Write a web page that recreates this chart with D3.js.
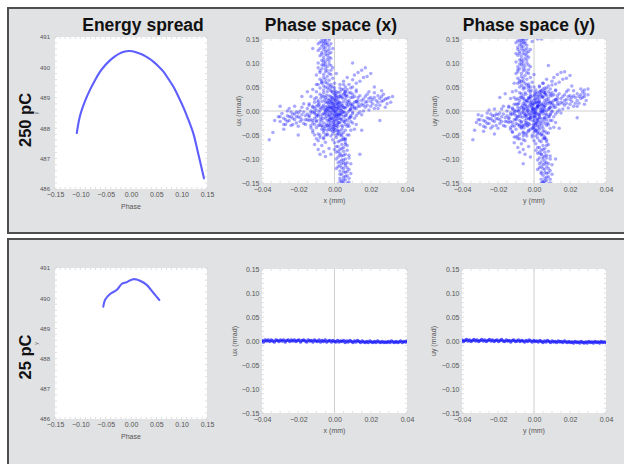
<!DOCTYPE html>
<html><head><meta charset="utf-8">
<script src="https://cdn.jsdelivr.net/npm/d3@7"></script>
<style>body{margin:0;background:#fff}svg{display:block}</style>
</head><body><svg id="c" width="624" height="464"></svg>
<script>
// ---------------- data ----------------
const colTitles = ["Energy spread", "Phase space (x)", "Phase space (y)"];
const rowLabels = ["250 pC", "25 pC"];
const energyTicksX = [-0.15, -0.10, -0.05, 0.00, 0.05, 0.10, 0.15];
const energyTicksY = [486, 487, 488, 489, 490, 491];
const phaseTicksX = [-0.04, -0.02, 0.00, 0.02, 0.04];
const phaseTicksY = [-0.15, -0.10, -0.05, 0.00, 0.05, 0.10, 0.15];

// energy spread curves (phase, energy)
const energy250Phase = [-0.107, -0.1007, -0.091, -0.081, -0.071, -0.061, -0.051, -0.041, -0.031, -0.022, -0.012, -0.005, 0.003, 0.013, 0.024, 0.034, 0.044, 0.054, 0.064, 0.0735, 0.0835, 0.093, 0.103, 0.113, 0.123, 0.133, 0.144];
const energy250E     = [487.84, 488.40, 488.88, 489.26, 489.58, 489.86, 490.07, 490.24, 490.37, 490.46, 490.52, 490.54, 490.53, 490.48, 490.41, 490.31, 490.19, 490.04, 489.86, 489.63, 489.37, 489.06, 488.70, 488.29, 487.83, 487.14, 486.35];
const energy25Phase  = [-0.0547, -0.0513, -0.0414, -0.0283, -0.0184, -0.0085, 0.0045, 0.0178, 0.031, 0.044, 0.0559];
const energy25E      = [489.72, 489.94, 490.14, 490.27, 490.47, 490.53, 490.63, 490.58, 490.44, 490.18, 489.94];

// phase space samples: [x (µm), ux (µrad)]
const phaseX250 = [
[-1,2],[0,-5],[2,8],[-3,-12],[1,15],[-4,4],[3,-8],[-2,20],[0,-18],[4,10],
[-5,-3],[2,-25],[-1,28],[1,-30],[-6,12],[5,-2],[-3,-22],[3,18],[-2,-35],[0,35],
[-7,5],[6,6],[-4,25],[2,-40],[-1,-8],[1,22],[-5,-15],[4,-18],[-3,32],[3,30],
[0,10],[-2,-2],[1,-12],[-1,16],[2,2],[-3,-28],[0,-38],[-4,40],[4,-30],[-6,-25],
[5,20],[-2,8],[1,5],[-1,-20],[3,-3],[-5,18],[2,14],[-3,0],[0,25],[1,-35],
[-7,-8],[6,-10],[-4,-40],[5,35],[-2,42],[3,-42],[-1,-42],[0,42],[-6,30],[6,25],
[-8,-18],[7,10],[-3,14],[2,-15],[-1,-28],[1,32],[-4,-6],[4,3],[0,-25],[-2,-15],
[2,26],[-5,8],[3,12],[-3,-38],[1,-2],[-1,38],[0,-10],[-2,30],[4,-8],[-4,18],
[5,-22],[-6,-5],[2,-32],[-1,6],[1,-20],[-3,-8],[3,-15],[0,18],[-2,-24],[2,38],
[-5,-32],[4,28],[-7,20],[6,-28],[-1,-35],[1,10],[-4,-20],[3,5],[0,0],[-2,4],
[2,-6],[-3,22],[1,28],[-1,12],[0,-30],[-5,0],[4,-38],[-6,38],[5,8],[-2,-40],
[3,40],[-8,2],[7,-20],[-4,10],[2,20],[-3,-18],[0,-42],[1,-8],[-1,-14],[3,-24],
[-2,16],[0,6],[-1,24],[2,-10],[-3,8],[1,40],[4,15],[-4,-30],[5,-12],[-5,28],
[-9,-30],[-8,35],[8,-15],[7,30],[-10,10],[9,5],[-6,-45],[5,45],[-2,50],[1,-50],
[-4,-50],[3,48],[-7,-38],[6,-40],[-9,22],[8,18],[-5,-50],[4,-48],[-11,-5],[10,-2],
[0,48],[-1,-48],[-3,46],[2,-46],[-8,-30],[7,-32],[-6,44],[6,40],[-10,-20],[9,-22],
[-0.5,1],[0.5,-1],[-1.5,-4],[1.5,4],[-2.5,9],[2.5,-9],[-0.5,13],[0.5,-13],[-1.5,19],[1.5,-19],
[-2.5,-17],[2.5,17],[-3.5,5],[3.5,-5],[-4.5,-11],[4.5,11],[-0.5,-23],[0.5,23],[-1.5,27],[1.5,-27],
[-3.5,-33],[3.5,33],[-2.5,-30],[2.5,30],[-5.5,23],[5.5,-23],[-4.5,33],[4.5,-33],[-6.5,-15],[6.5,15],
[-0.5,-37],[0.5,37],[-1.5,41],[1.5,-41],[-3.5,-1],[3.5,1],[-2.5,-9],[2.5,9],[-5.5,3],[5.5,-3],
[-6.5,9],[6.5,-9],[-7.5,-13],[7.5,13],[-4.5,-27],[4.5,27],[-5.5,-37],[5.5,37],[-7.5,27],[7.5,-27],
[-1.5,7],[1.5,-7],[-0.5,-31],[0.5,31],[-3.5,17],[3.5,-17],[-2.5,24],[2.5,-24],[-4.5,2],[4.5,-2],
[-8.5,-2],[8.5,2],[-6.5,-33],[6.5,33],[-8.5,14],[8.5,-14],[-5.5,-7],[5.5,7],[-1.5,-15],[1.5,15],
[-12,-20],[-11,25],[-13,0],[11,-15],[12,20],[10,35],[-10,40],[-12,-40],[11,-38],[-9,55],
[8,-50],[-14,15],[13,-5],[-11,-50],[10,50],[-7,60],[6,-60],[-13,30],[12,-28],[-10,-35],
[9,-40],[-8,48],[7,45],[-12,10],[11,5],[-9,-48],[8,38],[-14,-10],[13,28],[-6,-58],
[5,55],[-11,-28],[10,-25],[-10,28],[9,28],[-13,-30],[12,40],[-8,-55],[7,-50],[-12,45],
[-7,-20],[-8,8],[-9,-8],[7,-4],[8,22],[9,-10],[-7,32],[6,-18],[-6,-40],[5,-45],
[-10,-12],[-9,18],[8,-32],[7,20],[-11,-2],[10,10],[-8,-25],[6,32],[-7,-30],[9,15],
[-4,48],[-6,52],[-2,55],[-5,60],[-3,64],[-7,58],[-1,68],[-4,72],[-6,70],[-8,66],
[-3,78],[-5,82],[-2,85],[-7,88],[-4,92],[-6,95],[-9,90],[-3,98],[-5,102],[-7,105],
[-4,108],[-2,110],[-6,112],[-8,115],[-5,118],[-3,120],[-7,122],[-4,125],[-6,128],[-9,126],
[-5,132],[-3,135],[-7,136],[-6,140],[-4,142],[-8,144],[-5,146],[-3,148],[-7,150],[-6,153],
[-1,50],[0,58],[-10,75],[-2,95],[-1,130],[-9,100],[-10,55],[1,78],[-2,140],[-4,154],
[-8,80],[-5,88],[-3,112],
[-5,50],[-3,53],[-7,63],[-4,58],[-6,76],[-2,76],[-8,84],[-5,96],[-3,104],[-6,100],
[-7,118],[-4,116],[-5,124],[-8,130],[-6,134],[-4,138],[-7,144],[-5,150],[-3,152],[-8,155],
[-6,106],[-2,122],[-9,140],[-5,66],[-1,90],[-4,84],[-7,96],[-6,146],[-3,128],[-5,140],
[2,-48],[4,-52],[1,-55],[5,-60],[3,-62],[6,-58],[0,-66],[4,-70],[2,-74],[7,-72],
[3,-80],[5,-84],[1,-86],[6,-90],[4,-94],[2,-96],[8,-98],[5,-102],[3,-105],[7,-108],
[4,-110],[6,-114],[2,-116],[5,-120],[8,-122],[3,-125],[6,-128],[4,-132],[7,-135],[5,-138],
[3,-140],[6,-143],[4,-146],[8,-148],[5,-150],[2,-152],[7,-154],[-1,-60],[0,-80],[9,-110],
[1,-100],[-2,-52],[9,-130],[6,-100],[3,-92],[4,-118],[5,-76],
[3,-50],[5,-56],[2,-64],[6,-66],[4,-78],[1,-74],[7,-82],[3,-88],[5,-92],[2,-108],
[6,-110],[4,-102],[7,-118],[5,-126],[3,-132],[6,-136],[8,-140],[4,-150],[6,-155],[5,-144],
[1,-120],[3,-114],[7,-126],[8,-92],[2,-84],[4,-60],[6,-70],[5,-108],[3,-146],[7,-150],
[-9,-10],[-10,2],[-11,-15],[-12,8],[-13,-4],[-14,-20],[-15,5],[-16,-10],[-17,-2],[-18,-18],
[-19,0],[-20,-12],[-21,-25],[-22,-6],[-23,-15],[-24,-2],[-25,-20],[-26,-10],[-27,-28],[-28,-15],
[-29,-5],[-30,-22],[-31,-12],[-12,-25],[-14,12],[-16,-28],[-18,8],[-20,-32],[-22,10],[-24,-30],
[-11,18],[-13,-35],[-15,-18],[-17,15],[-19,-22],[-21,-2],[-23,-28],[-26,0],[-10,-22],[-9,12],
[-34,-45],[-28,-38],[-25,5],[-33,-20],
[-10,-8],[-12,-2],[-14,-12],[-16,-18],[-18,-8],[-20,-4],[-22,-18],[-24,-12],[-26,-22],[-28,-28],
[-11,5],[-13,-18],[-15,-6],[-17,-26],[-19,-14],[-21,-12],[-23,-6],[-25,-12],[-27,-18],[-30,-12],
[8,0],[9,12],[10,-5],[11,18],[12,5],[13,22],[14,-2],[15,14],[16,25],[17,8],
[18,20],[19,2],[20,28],[21,15],[22,5],[23,22],[24,32],[25,12],[26,20],[27,35],
[28,25],[29,15],[30,28],[31,18],[10,28],[12,-10],[14,32],[16,0],[18,35],[20,10],
[22,38],[24,5],[26,42],[28,8],[9,-12],[11,30],[13,10],[15,-8],[17,30],[19,40],
[9,4],[11,8],[13,16],[15,22],[17,18],[19,26],[21,24],[23,12],[25,26],[27,22],
[10,14],[12,20],[14,10],[16,12],[18,12],[20,20],[22,28],[24,18],[26,30],[29,26],
[4,45],[6,50],[8,55],[5,62],[9,48],[10,65],[7,70],[12,58],[11,75],[14,62],
[13,80],[16,70],[15,85],[18,72],[17,90],[20,78],[6,40],[9,38],[12,44],[3,55],
[-4,-48],[-6,-55],[-8,-50],[-5,-65],[-9,-62],[-7,-72],[-10,-58],[-3,-78],[-6,-85],[-11,-70],
[-8,-90],[-5,-95],[-12,-45],[-9,-80],[-2,-90],
[-36,-60],[-30,10],[32,30],[25,-20],[-20,-50],[15,-40],[22,50],[-15,40],[10,100],[-12,130],[14,-90],[-18,30]
];

const phaseY250 = [
[0,3],[-1,-6],[2,10],[-2,-14],[1,18],[-3,2],[3,-10],[-4,22],[0,-20],[4,12],
[-6,-2],[1,-26],[-2,30],[2,-32],[-5,14],[5,0],[-4,-24],[3,20],[-1,-36],[1,36],
[-7,8],[6,4],[-3,26],[3,-38],[0,-6],[2,24],[-5,-12],[5,-16],[-2,34],[4,32],
[-1,12],[-3,-4],[0,-14],[-2,18],[1,0],[-4,-30],[1,-40],[-5,38],[3,-28],[-7,-22],
[6,22],[-1,6],[2,8],[-2,-18],[4,-2],[-6,16],[3,14],[-4,-2],[1,26],[0,-34],
[-8,-6],[7,-8],[-3,-42],[4,38],[-3,42],[2,-44],[0,-44],[1,44],[-6,32],[5,28],
[-8,-20],[6,12],[-2,14],[3,-14],[0,-28],[0,32],[-5,-8],[5,4],[1,-24],[-3,-16],
[3,26],[-6,6],[2,12],[-2,-38],[0,-2],[-2,40],[1,-10],[-3,28],[5,-6],[-5,20],
[4,-22],[-7,-4],[3,-34],[0,6],[2,-20],[-4,-10],[2,-16],[1,18],[-3,-26],[3,40],
[-6,-30],[5,30],[-8,22],[6,-26],[0,-38],[2,10],[-5,-20],[4,6],[-1,0],[-1,4],
[1,-4],[-4,22],[2,30],[0,14],[1,-30],[-6,2],[5,-36],[-7,36],[6,10],[-3,-40],
[4,42],[-9,0],[7,-18],[-5,12],[3,18],[-4,-16],[1,-42],[0,-12],[-2,-10],[4,-26],
[-1,16],[1,4],[0,22],[3,-8],[-4,10],[2,38],[5,16],[-5,-28],[6,-14],[-6,26],
[-9,-28],[-8,38],[8,-12],[7,32],[-10,14],[9,8],[-6,-46],[5,46],[-3,52],[1,-52],
[-4,-52],[3,50],[-7,-36],[6,-42],[-9,26],[8,20],[-5,-48],[4,-50],[-11,-2],[10,0],
[0,50],[-1,-50],[-3,48],[2,-48],[-8,-32],[7,-30],[-6,46],[6,42],[-10,-18],[9,-20],
[-0.5,3],[0.5,-3],[-1.5,-2],[1.5,6],[-2.5,11],[2.5,-7],[-0.5,15],[0.5,-11],[-1.5,21],[1.5,-17],
[-2.5,-15],[2.5,19],[-3.5,7],[3.5,-3],[-4.5,-9],[4.5,13],[-0.5,-21],[0.5,25],[-1.5,29],[1.5,-25],
[-3.5,-31],[3.5,35],[-2.5,-28],[2.5,32],[-5.5,25],[5.5,-21],[-4.5,35],[4.5,-31],[-6.5,-13],[6.5,17],
[-0.5,-35],[0.5,39],[-1.5,43],[1.5,-39],[-3.5,1],[3.5,3],[-2.5,-7],[2.5,11],[-5.5,5],[5.5,-1],
[-6.5,11],[6.5,-7],[-7.5,-11],[7.5,15],[-4.5,-25],[4.5,29],[-5.5,-35],[5.5,39],[-7.5,29],[7.5,-25],
[-1.5,9],[1.5,-5],[-0.5,-29],[0.5,33],[-3.5,19],[3.5,-15],[-2.5,26],[2.5,-22],[-4.5,4],[4.5,0],
[-8.5,0],[8.5,4],[-6.5,-31],[6.5,35],[-8.5,16],[8.5,-12],[-5.5,-5],[5.5,9],[-1.5,-13],[1.5,17],
[-12,-24],[-11,28],[-13,-4],[11,-12],[12,24],[10,38],[-10,42],[-12,-44],[11,-34],[-9,58],
[8,-46],[-14,10],[13,-2],[-11,-54],[10,54],[-7,62],[6,-56],[-13,26],[12,-24],[-10,-38],
[9,-36],[-8,50],[7,48],[-12,6],[11,8],[-9,-52],[8,40],[-14,-14],[13,32],[-6,-60],
[5,58],[-11,-32],[10,-20],[-10,24],[9,32],[-13,-34],[12,44],[-8,-58],[7,-46],[-12,40],
[-7,-24],[-8,4],[-9,-12],[7,0],[8,26],[9,-6],[-7,28],[6,-14],[-6,-44],[5,-42],
[-10,-16],[-9,14],[8,-28],[7,24],[-11,-6],[10,14],[-8,-29],[6,36],[-7,-34],[9,19],
[-5,48],[-7,54],[-3,56],[-6,62],[-4,66],[-8,60],[-2,70],[-5,74],[-7,72],[-9,68],
[-4,80],[-6,84],[-3,86],[-8,88],[-5,94],[-7,96],[-9,92],[-4,100],[-6,104],[-8,106],
[-5,110],[-3,112],[-7,114],[-9,116],[-6,120],[-4,122],[-8,124],[-5,127],[-7,130],[-9,133],
[-6,134],[-4,137],[-8,138],[-7,142],[-5,144],[-9,146],[-6,148],[-4,150],[-8,152],[-7,154],
[-2,50],[-1,60],[-10,78],[-3,96],[-2,128],[-10,102],[-11,58],[0,76],[2,150],[-1,145],
[-9,82],[-6,90],[-4,115],
[-6,50],[-4,54],[-8,64],[-5,58],[-7,78],[-3,78],[-9,86],[-6,98],[-4,106],[-7,102],
[-8,120],[-5,118],[-6,126],[-9,128],[-7,136],[-5,140],[-8,146],[-6,150],[-4,153],[-9,155],
[-7,108],[-3,124],[-10,142],[-6,68],[-2,92],[-5,86],[-8,98],[-7,148],[-4,130],[-6,142],
[3,-46],[5,-50],[2,-56],[6,-58],[4,-64],[7,-60],[1,-68],[5,-72],[3,-76],[8,-70],
[4,-82],[6,-86],[2,-88],[7,-92],[5,-96],[3,-98],[9,-100],[6,-104],[4,-106],[8,-110],
[5,-112],[7,-116],[3,-118],[6,-122],[9,-124],[4,-127],[7,-130],[5,-134],[8,-137],[6,-140],
[4,-142],[7,-145],[5,-148],[9,-150],[6,-152],[3,-154],[8,-155],[0,-62],[1,-82],[10,-112],
[2,-102],[-1,-54],[10,-132],[7,-98],[4,-90],[5,-120],[6,-78],
[4,-48],[6,-54],[3,-62],[7,-64],[5,-80],[2,-76],[8,-84],[4,-90],[6,-94],[3,-110],
[7,-108],[5,-100],[8,-120],[6,-128],[4,-130],[7,-138],[9,-142],[5,-148],[7,-154],[6,-146],
[2,-122],[4,-116],[8,-128],[9,-94],[3,-86],[5,-58],[7,-72],[6,-110],[4,-150],[8,-152],
[-9,-12],[-10,0],[-11,-18],[-12,4],[-13,-8],[-14,-24],[-15,0],[-16,-14],[-17,-6],[-18,-22],
[-19,-4],[-20,-16],[-21,-30],[-22,-10],[-23,-20],[-24,-6],[-25,-26],[-26,-14],[-27,-34],[-28,-20],
[-29,-10],[-30,-28],[-31,-18],[-12,-30],[-14,8],[-16,-32],[-18,4],[-20,-36],[-22,4],[-24,-36],
[-11,14],[-13,-38],[-15,-22],[-17,10],[-19,-26],[-21,-6],[-23,-32],[-26,-4],[-10,-26],[-9,8],
[-33,-40],[-28,-42],[-25,2],[-32,-24],
[-10,-10],[-12,-6],[-14,-16],[-16,-22],[-18,-12],[-20,-8],[-22,-22],[-24,-16],[-26,-26],[-28,-32],
[-11,2],[-13,-22],[-15,-10],[-17,-30],[-19,-18],[-21,-16],[-23,-10],[-25,-16],[-27,-22],[-30,-18],
[8,4],[9,16],[10,-2],[11,22],[12,8],[13,26],[14,2],[15,18],[16,30],[17,12],
[18,24],[19,6],[20,32],[21,20],[22,10],[23,28],[24,36],[25,16],[26,26],[27,40],
[28,30],[29,22],[30,34],[28,44],[10,32],[12,-6],[14,36],[16,4],[18,40],[20,14],
[22,42],[24,10],[26,46],[28,14],[9,-8],[11,34],[13,14],[15,-4],[17,34],[19,44],
[9,8],[11,12],[13,20],[15,26],[17,22],[19,30],[21,28],[23,16],[25,30],[27,28],
[10,18],[12,24],[14,14],[16,16],[18,16],[20,24],[22,32],[24,22],[26,34],[28,36],
[4,42],[6,48],[8,52],[5,58],[9,46],[10,62],[7,66],[12,56],[11,70],[14,60],
[13,76],[16,66],[15,80],[18,68],[17,82],[20,74],[6,38],[9,36],[12,42],[3,52],
[-4,-46],[-6,-52],[-8,-48],[-5,-62],[-9,-58],[-7,-68],[-10,-54],[-3,-74],[-6,-80],[-11,-66],
[-8,-86],[-5,-90],[-12,-44],[-9,-76],[-2,-96],
[-34,-60],[-31,-8],[30,46],[24,-14],[-22,-48],[14,-36],[21,52],[-16,36],[8,95],[-10,120],[12,-100],[-19,28],[4,150],[-6,-110]
];

const phaseX25 = [
[-40,1],[-39.1,-2],[-38.3,2],[-37.4,0],[-36.6,2],[-35.7,-1],[-34.9,2],[-34,0],[-33.2,-2],[-32.3,2],
[-31.5,1],[-30.6,-1],[-29.8,2],[-28.9,0],[-28.1,2],[-27.2,-2],[-26.4,1],[-25.5,2],[-24.7,-1],[-23.8,2],
[-23,0],[-22.1,2],[-21.3,-1],[-20.4,1],[-19.6,2],[-18.7,-2],[-17.9,1],[-17,2],[-16.2,0],[-15.3,-2],
[-14.5,2],[-13.6,0],[-12.8,1],[-11.9,-2],[-11.1,2],[-10.2,0],[-9.4,-1],[-8.5,2],[-7.7,-2],[-6.8,1],
[-6,-1],[-5.1,2],[-4.3,-2],[-3.4,0],[-2.6,1],[-1.7,-2],[-0.9,1],[0,-1],[0.8,-2],[1.7,1],
[2.5,-2],[3.4,0],[4.2,-1],[5.1,1],[5.9,-3],[6.8,0],[7.6,-2],[8.5,1],[9.3,-1],[10.2,-3],
[11,0],[11.9,-2],[12.7,1],[13.6,-1],[14.4,-3],[15.3,0],[16.1,-2],[17,-3],[17.8,-1],[18.7,-3],
[19.5,0],[20.4,-2],[21.2,-3],[22.1,-1],[22.9,-3],[23.8,0],[24.6,-2],[25.5,-3],[26.3,-1],[27.2,-3],
[28,-2],[28.9,-3],[29.7,-1],[30.6,-3],[31.4,0],[32.3,-2],[33.1,-3],[34,-1],[34.8,-3],[35.7,-2],
[36.5,0],[37.4,-3],[38.2,-1],[39.1,-2],[40,0]
];

const phaseY25 = [
[-40,2],[-39.2,-1],[-38.4,1],[-37.5,3],[-36.7,0],[-35.8,2],[-35,-1],[-34.1,1],[-33.3,3],[-32.4,0],
[-31.6,2],[-30.7,-1],[-29.9,1],[-29,3],[-28.2,0],[-27.3,2],[-26.5,-1],[-25.6,1],[-24.8,3],[-23.9,0],
[-23.1,2],[-22.2,-1],[-21.4,1],[-20.5,2],[-19.7,-1],[-18.8,1],[-18,3],[-17.1,0],[-16.3,-1],[-15.4,2],
[-14.6,0],[-13.7,1],[-12.9,-2],[-12,1],[-11.2,2],[-10.3,-1],[-9.5,0],[-8.6,2],[-7.8,-1],[-6.9,1],
[-6.1,0],[-5.2,-2],[-4.4,1],[-3.5,-1],[-2.7,2],[-1.8,0],[-1,-2],[-0.1,1],[0.7,-1],[1.6,0],
[2.4,-2],[3.3,1],[4.1,-1],[5,-3],[5.8,0],[6.7,-2],[7.5,1],[8.4,-1],[9.2,-3],[10.1,0],
[10.9,-2],[11.8,-1],[12.6,-3],[13.5,0],[14.3,-2],[15.2,-1],[16,-3],[16.9,0],[17.7,-2],[18.6,-3],
[19.4,-1],[20.3,-3],[21.1,-2],[22,-4],[22.8,-1],[23.7,-3],[24.5,-2],[25.4,-4],[26.2,-1],[27.1,-3],
[27.9,-4],[28.8,-2],[29.6,-4],[30.5,-1],[31.3,-3],[32.2,-2],[33,-4],[33.9,-1],[34.7,-3],[35.6,-2],
[36.4,-4],[37.3,-1],[38.1,-3],[39,-2],[40,-3]
];

// ---------------- drawing ----------------
const svg = d3.select("#c");
const FONT = "'Liberation Sans', Arial, Helvetica, sans-serif";
const fmt2 = d3.format(".2f");
const fmt0 = d3.format("d");
let clipN = 0;

// panels
svg.append("rect").attr("x", 8).attr("y", 8).attr("width", 640).attr("height", 225)
  .attr("fill", "#e1e2e4").attr("stroke", "#4f4f4f").attr("stroke-width", 2);
svg.append("rect").attr("x", 8).attr("y", 239).attr("width", 640).attr("height", 240)
  .attr("fill", "#e1e2e4").attr("stroke", "#4f4f4f").attr("stroke-width", 2);

function makePlot(box, xDom, yDom, xTicks, yTicks, o) {
  const g = svg.append("g");
  const x = d3.scaleLinear().domain(xDom).range([box.x, box.x + box.w]);
  const y = d3.scaleLinear().domain(yDom).range([box.y + box.h, box.y]);
  g.append("rect").attr("x", box.x).attr("y", box.y).attr("width", box.w).attr("height", box.h).attr("fill", "#fff");
  const id = "clip" + (clipN++);
  svg.append("clipPath").attr("id", id).append("rect")
    .attr("x", box.x).attr("y", box.y).attr("width", box.w).attr("height", box.h);
  const mg = g.append("g").attr("stroke", "#c9c9c9").attr("stroke-width", 0.6);
  x.ticks(o.xMinor).forEach(v => {
    mg.append("line").attr("x1", x(v)).attr("x2", x(v)).attr("y1", box.y).attr("y2", box.y + 2);
    mg.append("line").attr("x1", x(v)).attr("x2", x(v)).attr("y1", box.y + box.h).attr("y2", box.y + box.h - 2);
  });
  y.ticks(o.yMinor).forEach(v => {
    mg.append("line").attr("y1", y(v)).attr("y2", y(v)).attr("x1", box.x).attr("x2", box.x + 2);
    mg.append("line").attr("y1", y(v)).attr("y2", y(v)).attr("x1", box.x + box.w).attr("x2", box.x + box.w - 2);
  });
  if (o.cross) {
    const cg = g.append("g").attr("stroke", "#cfcfcf").attr("stroke-width", 1);
    cg.append("line").attr("x1", x(0)).attr("x2", x(0)).attr("y1", box.y).attr("y2", box.y + box.h);
    cg.append("line").attr("y1", y(0)).attr("y2", y(0)).attr("x1", box.x).attr("x2", box.x + box.w);
  }
  const ax = svg.append("g").attr("transform", `translate(0,${box.y + box.h})`)
    .call(d3.axisBottom(x).tickValues(xTicks).tickSize(0).tickPadding(o.xPad).tickFormat(o.xFmt));
  ax.select(".domain").remove();
  ax.selectAll("text").attr("font-size", 7).attr("fill", "#555").attr("font-family", FONT);
  const ay = svg.append("g").attr("transform", `translate(${box.x},0)`)
    .call(d3.axisLeft(y).tickValues(yTicks).tickSize(0).tickPadding(o.yPad).tickFormat(o.yFmt));
  ay.select(".domain").remove();
  ay.selectAll("text").attr("font-size", o.yFont).attr("fill", "#555").attr("font-family", FONT);
  svg.append("text").attr("x", box.x + box.w / 2).attr("y", o.xLabelY).attr("text-anchor", "middle")
    .attr("font-family", FONT).attr("font-size", 7).attr("fill", "#555").text(o.xLabel);
  svg.append("text").attr("transform", `translate(${o.yLabelX},${box.y + box.h / 2}) rotate(-90)`)
    .attr("text-anchor", "middle").attr("font-family", FONT).attr("font-size", o.yLabelFont)
    .attr("fill", "#555").text(o.yLabel);
  const marks = svg.append("g").attr("clip-path", `url(#${id})`);
  return { x, y, marks, box };
}

function energyPlot(box, phase, E, xLabelY) {
  const p = makePlot(box, [-0.15, 0.15], [486, 491], energyTicksX, energyTicksY, {
    xMinor: 30, yMinor: 25, xPad: 3.5, yPad: 5, xFmt: fmt2, yFmt: fmt0, yFont: 6,
    xLabel: "Phase", xLabelY: xLabelY, yLabel: "y", yLabelX: 38, yLabelFont: 5, cross: false
  });
  const pts = phase.map((v, i) => [v, E[i]]);
  const line = d3.line().x(d => p.x(d[0])).y(d => p.y(d[1])).curve(d3.curveCatmullRom);
  p.marks.append("path").datum(pts).attr("d", line).attr("fill", "none")
    .attr("stroke", "#4242ff").attr("stroke-width", 2.1).attr("stroke-opacity", 0.85).attr("stroke-linecap", "round");
}

function phasePlot(box, data, axisName, xLabelY, yLabelX, r, op) {
  const p = makePlot(box, [-0.04, 0.04], [-0.15, 0.15], phaseTicksX, phaseTicksY, {
    xMinor: 16, yMinor: 30, xPad: 4.5, yPad: 2.5, xFmt: fmt2, yFmt: fmt2, yFont: 7,
    xLabel: axisName + " (mm)", xLabelY: xLabelY, yLabel: "u" + axisName + " (mrad)", yLabelX: yLabelX, yLabelFont: 7, cross: true
  });
  p.marks.selectAll("circle").data(data).join("circle")
    .attr("cx", d => p.x(d[0] / 1000)).attr("cy", d => p.y(d[1] / 1000))
    .attr("r", r).attr("fill", "#1212ff").attr("fill-opacity", op);
}

// top row
energyPlot({ x: 55, y: 37, w: 152, h: 152 }, energy250Phase, energy250E, 208.5);
phasePlot({ x: 262, y: 39, w: 145, h: 144 }, phaseX250, "x", 203, 241, 1.75, 0.36);
phasePlot({ x: 462, y: 39, w: 144, h: 144 }, phaseY250, "y", 203, 437, 1.75, 0.36);
// bottom row
energyPlot({ x: 55, y: 268, w: 152, h: 151 }, energy25Phase, energy25E, 438.5);
phasePlot({ x: 262, y: 269, w: 145, h: 144 }, phaseX25, "x", 433, 237, 1.8, 0.7);
phasePlot({ x: 462, y: 269, w: 144, h: 144 }, phaseY25, "y", 433, 436, 1.8, 0.7);

// titles
[143, 331, 529].forEach((cx, i) => {
  svg.append("text").attr("x", cx).attr("y", 31).attr("text-anchor", "middle")
    .attr("font-family", FONT).attr("font-weight", "bold").attr("font-size", 17.5)
    .attr("fill", "#111").text(colTitles[i]);
});
// row labels
[120, 357].forEach((cy, i) => {
  svg.append("text").attr("transform", `translate(31,${cy}) rotate(-90)`).attr("text-anchor", "middle")
    .attr("font-family", FONT).attr("font-weight", "bold").attr("font-size", 16.5)
    .attr("fill", "#111").text(rowLabels[i]);
});
</script></body></html>
